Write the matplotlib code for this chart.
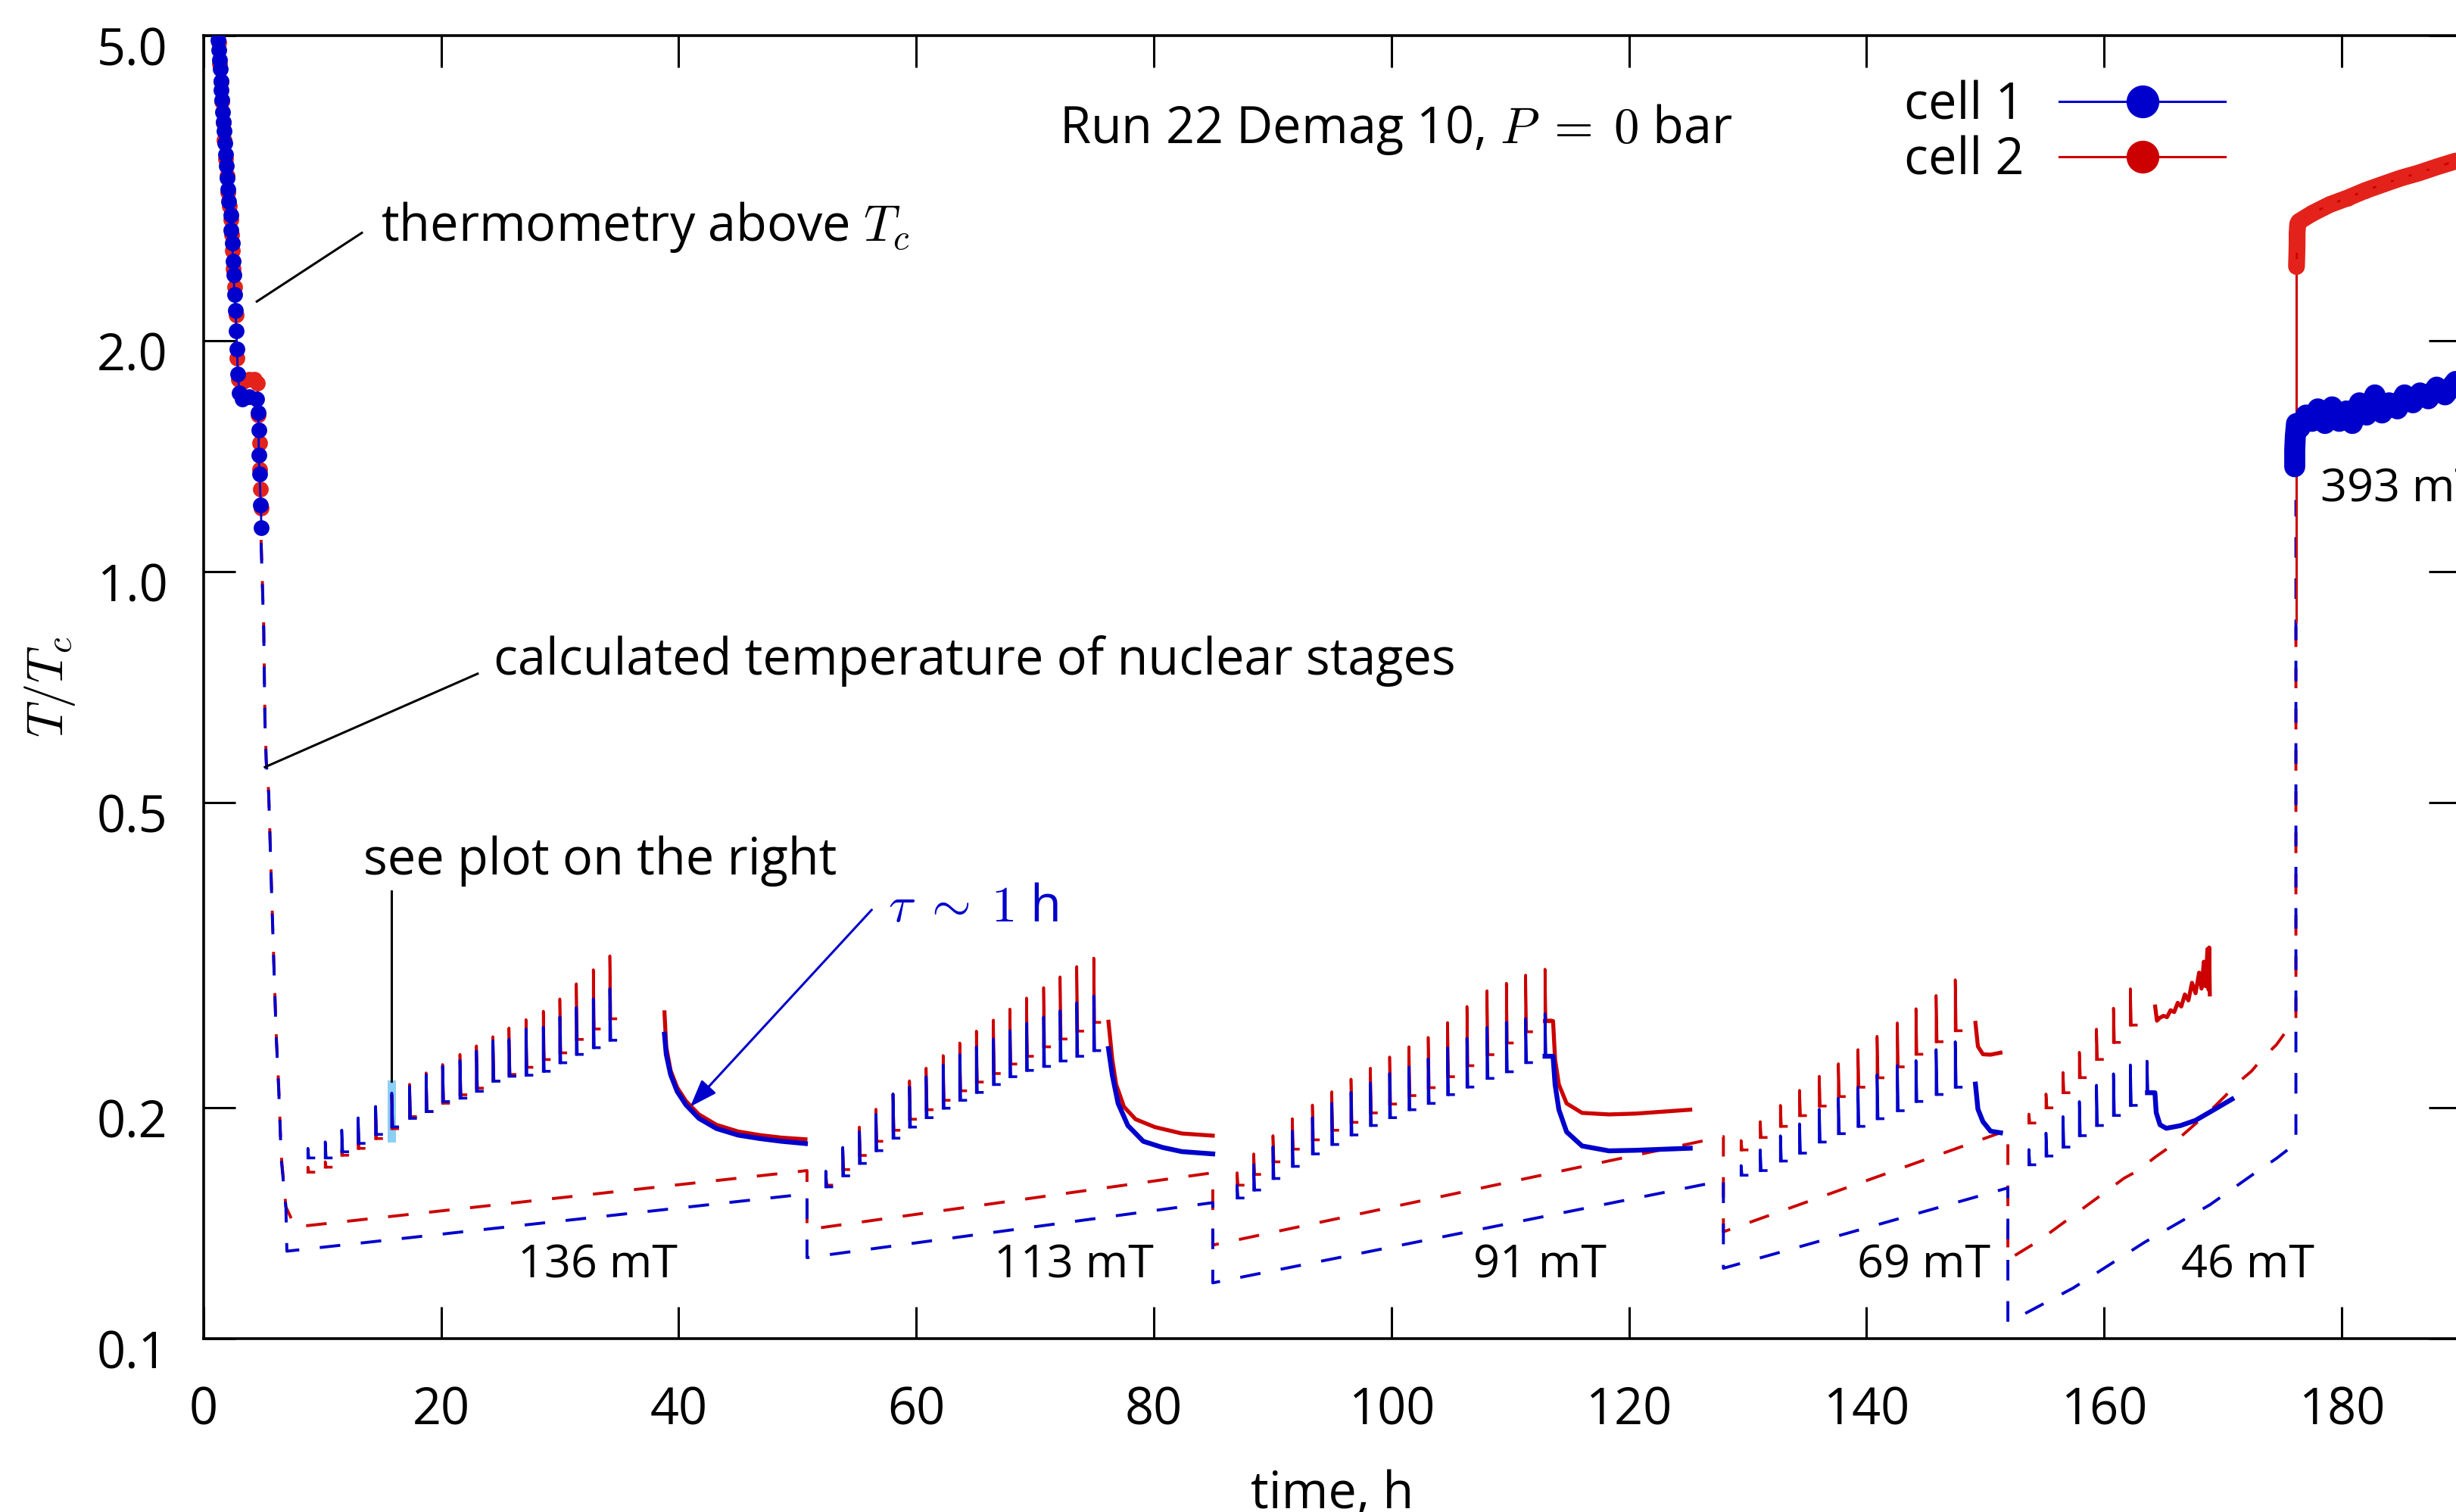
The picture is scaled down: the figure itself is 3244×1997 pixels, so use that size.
import numpy as np
import matplotlib
matplotlib.use('Agg')
import matplotlib.pyplot as plt
from matplotlib.lines import Line2D
from matplotlib.ticker import FixedLocator, NullLocator, FormatStrFormatter
from matplotlib.transforms import ScaledTranslation

plt.rcParams['font.family'] = ['Open Sans', 'DejaVu Sans']
plt.rcParams['mathtext.fontset'] = 'cm'
plt.rcParams['font.size'] = 24

BLUE = '#0000cc'
RED = '#cc0000'
RED_DOT = '#e3231b'

# thermometry above Tc at the start of the run (dots)
therm_t_c1 = [1.23, 1.29, 1.33, 1.39, 1.46, 1.49, 1.55, 1.62, 1.65, 1.72, 1.78, 1.85,
              1.91, 1.98, 2.04, 2.11, 2.27, 2.30, 2.43, 2.46, 2.53, 2.59, 2.69, 2.75,
              2.82, 2.88, 3.02, 3.28, 3.83, 4.48, 4.58, 4.64, 4.64, 4.71, 4.81, 4.87]
therm_c1 = [4.93, 4.79, 4.65, 4.52, 4.36, 4.24, 4.12, 3.97, 3.86, 3.75, 3.62, 3.50,
            3.38, 3.26, 3.15, 3.04, 2.92, 2.79, 2.68, 2.54, 2.44, 2.30, 2.19, 2.06,
            1.95, 1.81, 1.71, 1.68, 1.69, 1.68, 1.61, 1.53, 1.42, 1.34, 1.22, 1.14]
therm_t_c2 = [1.25, 1.35, 1.45, 1.55, 1.65, 1.75, 1.85, 1.95, 2.05, 2.15, 2.28, 2.36,
              2.45, 2.52, 2.60, 2.72, 2.82, 2.95, 3.3, 3.8, 4.3, 4.55, 4.62, 4.70,
              4.75, 4.78, 4.85]
therm_c2 = [4.90, 4.60, 4.35, 4.10, 3.85, 3.65, 3.45, 3.28, 3.12, 3.00, 2.88, 2.75,
            2.62, 2.48, 2.35, 2.16, 1.90, 1.78, 1.77, 1.78, 1.78, 1.76, 1.60, 1.47,
            1.36, 1.28, 1.21]

# thermometry above Tc after the last demag (dots)
late_t_c1 = [176.05, 176.05, 176.1, 176.2, 176.5, 177.0, 177.5, 178.0, 178.6, 179.2,
             179.8, 180.4, 180.9, 181.5, 182.1, 182.8, 183.4, 184.0, 184.7, 185.3,
             186.0, 186.6, 187.3, 188.0, 188.7, 189.6]
late_c1 = [1.37, 1.44, 1.50, 1.56, 1.54, 1.60, 1.57, 1.63, 1.56, 1.64, 1.57, 1.62,
           1.56, 1.66, 1.60, 1.70, 1.61, 1.66, 1.63, 1.70, 1.66, 1.71, 1.68, 1.74,
           1.70, 1.77]
late_t_c2 = [176.2, 176.25, 176.25, 176.3, 176.4, 177.5, 179.0, 180.5, 182.0, 183.5,
             185.0, 186.5, 188.0, 189.6]
late_c2 = [2.50, 2.67, 2.76, 2.84, 2.86, 2.93, 3.01, 3.07, 3.14, 3.20, 3.26, 3.31,
           3.37, 3.43]
rise_t_c2 = [176.2, 176.2]
rise_c2 = [0.86, 2.50]

# calculated temperature of the nuclear stages (dashed)
calc_t_c1 = [4.84, 5.06, 5.16, 5.27, 5.48, 5.69, 5.91, 6.12, 6.33, 6.54, 6.93, 7.01,
             50.8, 50.8, 84.96, 84.96, 127.95, 127.95, 151.9, 151.9, 157.4, 163.4,
             168.9, 172.8, 174.5, 175.75, 176.15, 176.15]
calc_c1 = [1.09, 0.84, 0.64, 0.565, 0.513, 0.397, 0.308, 0.246, 0.210, 0.171, 0.148,
           0.130, 0.1544, 0.1275, 0.1504, 0.1182, 0.1607, 0.1235, 0.1572, 0.1049,
           0.1164, 0.1335, 0.1494, 0.1648, 0.1717, 0.1777, 0.1785, 1.24]
calc_t_c2 = [4.84, 5.06, 5.16, 5.27, 5.48, 5.69, 5.91, 6.12, 6.33, 6.54, 6.93, 7.71,
             50.8, 50.8, 84.96, 84.96, 127.95, 127.95, 151.9, 151.9, 154.5, 161.7,
             162.8, 164.3, 165.35, 166.8, 168.1, 169.4, 170.24, 171.3, 172.4, 173.4,
             174.5, 175.87, 176.15, 176.15]
calc_c2 = [1.10, 0.85, 0.65, 0.57, 0.515, 0.40, 0.31, 0.248, 0.212, 0.173, 0.1485,
           0.1398, 0.1656, 0.1387, 0.1645, 0.1324, 0.1834, 0.1378, 0.1870, 0.1267,
           0.1341, 0.1619, 0.1654, 0.1724, 0.1770, 0.1853, 0.1930, 0.2014, 0.2075,
           0.2158, 0.2231, 0.2326, 0.2415, 0.2584, 0.2600, 0.86]

# heat pulses: time, peak and level after the pulse, per field step
pulse_t = {
    136: [8.78, 10.24, 11.63, 13.01, 14.48, 15.84, 17.34, 18.73, 20.12, 21.58, 22.97,
          24.36, 25.71, 27.14, 28.60, 29.99, 31.38, 32.81, 34.20],
    113: [52.38, 53.81, 55.21, 56.60, 58.04, 59.43, 60.83, 62.26, 63.66, 65.06, 66.49,
          67.88, 69.28, 70.72, 72.11, 73.51, 74.94],
    91: [87.01, 88.41, 90.03, 91.66, 93.35, 94.98, 96.60, 98.23, 99.85, 101.48, 103.10,
         104.73, 106.36, 108.05, 109.68, 111.30, 112.93],
    69: [129.44, 131.05, 132.75, 134.36, 136.02, 137.63, 139.28, 140.89, 142.59, 144.16,
         145.86, 147.47],
    46: [153.67, 155.11, 156.54, 157.92, 159.36, 160.79, 162.21, 163.61],
}
peak_c1 = {
    136: [0.177, 0.1805, 0.187, 0.194, 0.2007, 0.209, 0.2132, 0.2208, 0.2265, 0.2304,
          0.2370, 0.2444, 0.2456, 0.2533, 0.2546, 0.2626, 0.2702, 0.2772, 0.2859],
    113: [0.1653, 0.1775, 0.1860, 0.1960, 0.2084, 0.2128, 0.2195, 0.2273, 0.2345, 0.2401,
          0.2458, 0.2521, 0.2577, 0.2626, 0.2676, 0.2740, 0.2798],
    91: [0.1585, 0.1685, 0.1778, 0.1864, 0.1941, 0.2026, 0.2094, 0.2154, 0.2216, 0.2258,
         0.2316, 0.2394, 0.2463, 0.2545, 0.2584, 0.2614, 0.2652],
    69: [0.1681, 0.1762, 0.1838, 0.1905, 0.1991, 0.2058, 0.2127, 0.2208, 0.2271, 0.2304,
         0.2381, 0.2438],
    46: [0.1764, 0.1853, 0.1947, 0.2037, 0.2140, 0.2214, 0.2274, 0.2300],
}
after_c1 = {
    136: [0.172, 0.172, 0.1752, 0.1797, 0.1846, 0.1888, 0.1937, 0.1977, 0.2037, 0.2058,
          0.2101, 0.2166, 0.2198, 0.2205, 0.2231, 0.2289, 0.2347, 0.2395, 0.2449],
    113: [0.1577, 0.1630, 0.1692, 0.1758, 0.1825, 0.1887, 0.1941, 0.1997, 0.2045, 0.2094,
          0.2144, 0.2195, 0.2237, 0.2264, 0.2301, 0.2334, 0.2374],
    91: [0.1525, 0.1562, 0.1617, 0.1677, 0.1741, 0.1791, 0.1843, 0.1896, 0.1941, 0.1988,
         0.2026, 0.2080, 0.2128, 0.2184, 0.2228, 0.2290, 0.2334],
    69: [0.1633, 0.1656, 0.1704, 0.1745, 0.1804, 0.1850, 0.1891, 0.1935, 0.1982, 0.2038,
         0.2081, 0.2127],
    46: [0.1685, 0.1730, 0.1777, 0.1839, 0.1896, 0.1954, 0.2014, 0.2092],
}
peak_c2 = {
    136: [0.1673, 0.170, 0.176, 0.190, 0.2007, 0.208, 0.2146, 0.222, 0.2277, 0.2347,
          0.2408, 0.2475, 0.254, 0.2605, 0.2672, 0.2772, 0.2901, 0.3026, 0.3155],
    113: [0.1645, 0.1772, 0.1887, 0.1991, 0.2084, 0.2168, 0.2252, 0.2339, 0.2429, 0.2517,
          0.2602, 0.2689, 0.2780, 0.2868, 0.2962, 0.3055, 0.3134],
    91: [0.1645, 0.1741, 0.1839, 0.1935, 0.2016, 0.2098, 0.2179, 0.2252, 0.2329, 0.2401,
         0.2470, 0.2582, 0.2710, 0.2841, 0.2906, 0.2978, 0.3031],
    69: [0.1812, 0.1918, 0.2014, 0.2107, 0.2198, 0.2282, 0.2381, 0.2478, 0.2580, 0.2692,
         0.2801, 0.2936],
    46: [0.1962, 0.2084, 0.2223, 0.2362, 0.2532, 0.2696, 0.2858],
}
after_c2 = {
    136: [0.1648, 0.1673, 0.1734, 0.177, 0.1823, 0.1878, 0.1947, 0.1977, 0.2027, 0.2079,
          0.2121, 0.2166, 0.2210, 0.2258, 0.2311, 0.2358, 0.2455, 0.2533, 0.2612],
    113: [0.1585, 0.1661, 0.1733, 0.1808, 0.1869, 0.1932, 0.1988, 0.2045, 0.2104, 0.2160,
          0.2216, 0.2280, 0.2334, 0.2401, 0.2458, 0.2517, 0.2584],
    91: [0.1585, 0.1637, 0.1700, 0.1766, 0.1816, 0.1869, 0.1914, 0.1969, 0.2022, 0.2074,
         0.2124, 0.2195, 0.2269, 0.2345, 0.2429, 0.2512, 0.2602],
    69: [0.1762, 0.1829, 0.1891, 0.1953, 0.2010, 0.2068, 0.2127, 0.2188, 0.2261, 0.2348,
         0.2438, 0.2520],
    46: [0.1910, 0.1999, 0.2092, 0.2189, 0.2312, 0.2433, 0.2563],
}

# relaxation after the pulse series (solid)
relax_t_c1 = [
    [38.8, 38.95, 39.32, 39.87, 40.61, 41.70, 43.17, 45.0, 46.83, 48.66, 50.67],
    [76.18, 76.5, 76.99, 77.81, 79.11, 80.73, 82.36, 84.96],
    [112.93, 113.61, 113.78, 114.10, 114.75, 116.05, 118.32, 120.6, 125.16],
    [149.17, 149.38, 149.80, 150.44, 151.28],
    [163.65, 164.28, 164.39, 164.71, 165.24, 166.41, 167.69, 168.96, 170.77],
]
relax_c1 = [
    [0.2494, 0.2347, 0.2208, 0.2100, 0.2017, 0.1937, 0.1879, 0.1842, 0.1823, 0.1808, 0.1796],
    [0.2389, 0.2206, 0.2026, 0.1896, 0.1808, 0.1775, 0.1753, 0.1741],
    [0.2334, 0.2334, 0.2144, 0.1988, 0.1860, 0.1783, 0.1757, 0.1760, 0.1771],
    [0.2147, 0.1991, 0.1918, 0.1864, 0.1855],
    [0.2092, 0.2092, 0.197, 0.190, 0.188, 0.1895, 0.1925, 0.1976, 0.2052],
]
relax_t_c2 = [
    [38.8, 38.95, 39.32, 39.87, 40.61, 41.70, 43.17, 45.0, 46.83, 48.66, 50.67],
    [76.18, 76.5, 76.83, 77.48, 78.46, 80.08, 82.36, 84.96],
    [112.93, 113.61, 113.78, 114.10, 114.75, 116.05, 118.32, 120.6, 125.16],
    [149.17, 149.38, 149.80, 150.44, 151.28],
    [164.3, 164.45, 164.7, 165.0, 165.3, 165.6, 165.9, 166.2, 166.5, 166.8, 167.1,
     167.4, 167.7, 168.0, 168.2, 168.4, 168.55, 168.7, 168.8, 168.85, 168.9],
]
relax_c2 = [
    [0.2663, 0.2400, 0.2235, 0.2125, 0.2040, 0.1960, 0.1900, 0.1862, 0.1842, 0.1828, 0.1819],
    [0.2589, 0.2312, 0.2144, 0.2006, 0.1932, 0.1887, 0.1851, 0.1839],
    [0.2594, 0.2594, 0.2312, 0.2144, 0.2026, 0.1969, 0.1960, 0.1965, 0.1988],
    [0.2580, 0.2404, 0.2348, 0.2345, 0.2359],
    [0.271, 0.2597, 0.262, 0.2635, 0.2625, 0.268, 0.2665, 0.274, 0.271, 0.281, 0.276,
     0.291, 0.282, 0.300, 0.286, 0.310, 0.288, 0.322, 0.285, 0.3235, 0.281],
]

field_labels = ['136 mT', '113 mT', '91 mT', '69 mT', '46 mT']
field_label_t = [33.2, 73.3, 112.5, 144.8, 172.1]
yticks = [0.1, 0.2, 0.5, 1.0, 2.0, 5.0]
xticks = [0, 20, 40, 60, 80, 100, 120, 140, 160, 180]
highlight_t = [15.5, 16.2]
highlight_T = [0.180, 0.217]


def pulse_path(times, peaks, after, tail=0.5):
    xs, ys = [], []
    for t, p, b in zip(times, peaks, after):
        xs += [t, t, t + 0.08, t + tail, np.nan]
        ys += [b, p, b, b, np.nan]
    return xs, ys


fig = plt.figure(figsize=(16.22, 9.985), dpi=200)
ax = fig.add_axes([0.0829, 0.1147, 0.9189, 0.8618])

ax.fill_between(highlight_t, highlight_T[0], highlight_T[1], color='#8ccff5', lw=0, zorder=1)

dash = (0, (7, 7))
ax.plot(calc_t_c2, calc_c2, color=RED, lw=1.4, ls=dash, zorder=2)
ax.plot(calc_t_c1, calc_c1, color=BLUE, lw=1.4, ls=dash, zorder=2.5)

for key in pulse_t:
    n2 = len(peak_c2[key])
    xs, ys = pulse_path(pulse_t[key][:n2], peak_c2[key], after_c2[key])
    ax.plot(xs, ys, color=RED, lw=1.3, zorder=3)
for key in pulse_t:
    xs, ys = pulse_path(pulse_t[key], peak_c1[key], after_c1[key])
    ax.plot(xs, ys, color=BLUE, lw=1.3, zorder=4)

for tt, vv in zip(relax_t_c2, relax_c2):
    ax.plot(tt, vv, color=RED, lw=1.9, zorder=3)
for tt, vv in zip(relax_t_c1, relax_c1):
    ax.plot(tt, vv, color=BLUE, lw=2.3, zorder=4)

ax.plot(rise_t_c2, rise_c2, color=RED, lw=1.1, zorder=3)
ax.plot(therm_t_c2, therm_c2, color=RED, lw=1.0, marker='o', ms=7.5, mew=0,
        mfc=RED_DOT, zorder=5)
ax.plot(therm_t_c1, therm_c1, color=BLUE, lw=1.0, marker='o', ms=7.5, mew=0, zorder=6)
ax.plot(late_t_c2, late_c2, color=RED_DOT, lw=8, solid_capstyle='round', zorder=5)
ax.plot(late_t_c2, late_c2, color=RED, lw=1.0, marker='o', ms=7.5, mew=0,
        mfc=RED_DOT, zorder=5)
ax.plot(late_t_c1, late_c1, color=BLUE, lw=10, solid_capstyle='round', zorder=6)
ax.plot(late_t_c1, late_c1, color=BLUE, lw=1.0, marker='o', ms=8, mew=0, zorder=6)

# annotations
ax.text(14.89, 2.81, r'thermometry above $T_c$', va='center', ha='left', zorder=7)
ax.plot([13.32, 4.48], [2.765, 2.25], color='k', lw=1.1, zorder=7)
ax.text(24.4, 0.764, 'calculated temperature of nuclear stages', va='center', zorder=7)
ax.plot([23.07, 5.16], [0.736, 0.556], color='k', lw=1.1, zorder=7)
ax.text(13.45, 0.419, 'see plot on the right', va='center', zorder=7)
ax.plot([15.84, 15.84], [0.383, 0.2166], color='k', lw=1.1, zorder=7)
ax.text(57.65, 0.364, r'$\tau\;\sim\;1$ h', color=BLUE, va='center', zorder=7)
ax.annotate('', xy=(40.97, 0.2006), xytext=(56.25, 0.3623),
            arrowprops=dict(arrowstyle='-|>,head_length=0.5,head_width=0.18',
                            color=BLUE, lw=1.1, mutation_scale=22, shrinkA=0, shrinkB=0),
            zorder=7)
ax.text(100.4, 3.77, r'Run 22 Demag 10, $P\;=\;0$ bar', ha='center', va='center', zorder=7)
for lab, tx in zip(field_labels, field_label_t):
    ax.text(tx, 0.1245, lab, ha='center', va='center', fontsize=22, zorder=7)
ax.text(178.2, 1.28, '393 mT', ha='left', va='center', fontsize=22, zorder=7)

handles = [Line2D([], [], color=BLUE, lw=1.1, marker='o', ms=15.6, mew=0, label='cell 1'),
           Line2D([], [], color=RED, lw=1.1, marker='o', ms=15.6, mew=0, label='cell 2')]
ax.legend(handles=handles, loc='center right', bbox_to_anchor=(0.8957, 0.925),
          frameon=False, markerfirst=False, numpoints=1, handlelength=3.28,
          handletextpad=0.7, labelspacing=0.08, borderpad=0, borderaxespad=0)

ax.set_xlim(0, 190)
ax.set_yscale('log')
ax.set_ylim(0.1, 5.0)
ax.set_xticks(xticks)
ax.yaxis.set_major_locator(FixedLocator(yticks))
ax.yaxis.set_minor_locator(NullLocator())
ax.yaxis.set_major_formatter(FormatStrFormatter('%.1f'))
ax.tick_params(which='both', direction='in', length=15, width=1.1,
               top=True, right=True, labelsize=24)
ax.tick_params(axis='x', pad=22.5)
ax.tick_params(axis='y', pad=17)
for sp in ax.spines.values():
    sp.set_linewidth(1.3)

ax.set_xlabel('time, h')
ax.xaxis.set_label_coords(0.5, -0.10)
ax.set_ylabel(r'$T/T_c$')
ax.yaxis.set_label_coords(-0.056, 0.5)

fig.canvas.draw()
shift = ScaledTranslation(0, -14 / 200, fig.dpi_scale_trans)
for tick in ax.yaxis.get_major_ticks():
    tick.label1.set_transform(tick.label1.get_transform() + shift)

fig.savefig('out.png', dpi=200)
